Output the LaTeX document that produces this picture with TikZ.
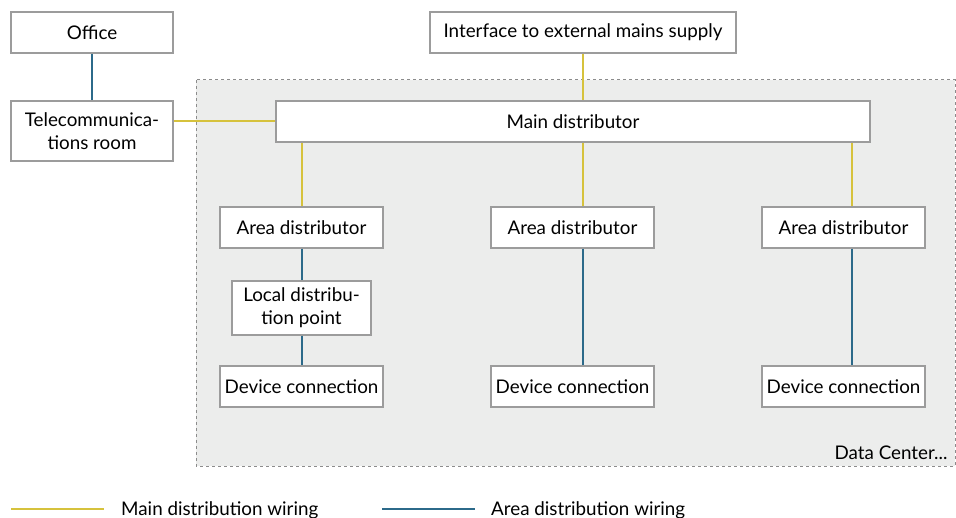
\documentclass[tikz,border=0pt]{standalone}
\usepackage{fontspec}
\setmainfont{Lato}
\usetikzlibrary{positioning}
\definecolor{mainyel}{HTML}{D6C23C}
\definecolor{areablue}{HTML}{2C6A8A}
\definecolor{dcgrey}{HTML}{ECEDEC}
\definecolor{boxgrey}{HTML}{9C9C9C}
\begin{document}
\begin{tikzpicture}[x=1pt, y=-1pt,
    box/.style={draw=boxgrey, line width=1.2pt, fill=white,
                minimum height=41pt, inner sep=0pt, align=center,
                font=\fontsize{18.8}{23}\selectfont},
    mainw/.style={mainyel, line width=2pt},
    areaw/.style={areablue, line width=2pt},
    lbl/.style={font=\fontsize{18.8}{23}\selectfont},
]
\useasboundingbox (0,0) rectangle (956,518);

% Data center area
\draw[fill=dcgrey, draw=gray!90, dashed, line width=1pt]
    (196,80) rectangle (955,466);
\node[lbl, anchor=base east] (dc) at (951,459) {Data Center...};

% Nodes
\node[box, minimum width=162pt] (office) at (92,32.5)   {Office};
\node[box, minimum width=162pt, minimum height=60pt] (tele) at (92,131)
    {Telecommunica-\\tions room};
\node[box, minimum width=306pt] (iface)  at (583,32.5)  {Interface to external mains supply};
\node[box, minimum width=594pt] (main)   at (573,121.5) {Main distributor};

\node[box, minimum width=163pt] (area1) at (301.5,227.5) {Area distributor};
\node[box, minimum width=163pt] (area2) at (572.5,227.5) {Area distributor};
\node[box, minimum width=163pt] (area3) at (843.5,227.5) {Area distributor};

\node[box, minimum width=139pt, minimum height=54pt] (local) at (301.5,308)
    {Local distribu-\\tion point};

\node[box, minimum width=163pt] (dev1) at (301.5,386.5) {Device connection};
\node[box, minimum width=163pt] (dev2) at (572.5,386.5) {Device connection};
\node[box, minimum width=163pt] (dev3) at (843.5,386.5) {Device connection};

% Main distribution wiring
\draw[mainw] (main.west -| tele.east) -- (main.west);
\draw[mainw] (iface.south) -- (iface.south |- main.north);
\draw[mainw] (area1.north |- main.south) -- (area1.north);
\draw[mainw] ([xshift=10pt]area2.north |- main.south) -- ([xshift=10pt]area2.north);
\draw[mainw] ([xshift=8pt]area3.north |- main.south) -- ([xshift=8pt]area3.north);

% Area distribution wiring
\draw[areaw] (office) -- (tele);
\draw[areaw] (area1) -- (local);
\draw[areaw] (local) -- (dev1);
\draw[areaw] ([xshift=10pt]area2.south) -- ([xshift=10pt]dev2.north);
\draw[areaw] ([xshift=8pt]area3.south) -- ([xshift=8pt]dev3.north);

% Legend
\coordinate (lgm1) at (11,509);
\coordinate (lgm2) at (104,509);
\coordinate (lga1) at (382,509);
\coordinate (lga2) at (475,509);
\draw[mainw] (lgm1) -- (lgm2);
\draw[areaw] (lga1) -- (lga2);
\node[lbl, anchor=base west, inner sep=0pt] (lgmtxt) at (121,515) {Main distribution wiring};
\node[lbl, anchor=base west, inner sep=0pt] (lgatxt) at (491,515) {Area distribution wiring};

\end{tikzpicture}
\end{document}
